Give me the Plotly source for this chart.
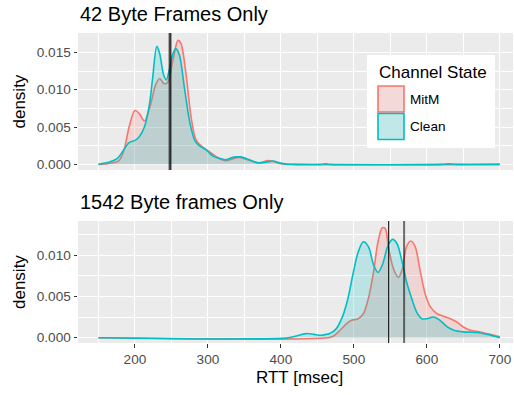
import plotly.graph_objects as go

# ---------------- data ----------------
top_mitm_x = [150, 160, 170, 178, 185, 192, 200, 206, 213, 220, 229, 234, 240, 245, 252, 259, 263,
              270, 277, 284, 293, 302, 316, 325, 339, 345, 361, 370, 382, 389, 398, 410, 700]
top_mitm_y = [0, 0.00005, 0.0002, 0.0005, 0.0019, 0.005, 0.0072, 0.0068, 0.0058, 0.0075, 0.0108,
              0.0115, 0.0108, 0.011, 0.0139, 0.0166, 0.0162, 0.0121, 0.0063, 0.0032, 0.0023, 0.0017,
              0.00075, 0.0005, 0.0009, 0.0009, 0.0004, 0.0002, 0.0005, 0.0004, 0.0001, 0, 0]

top_clean_x = [150, 165, 176, 183, 192, 200, 206, 213, 220, 224, 230, 234, 239, 243, 247, 252, 256,
               261, 268, 275, 282, 288, 298, 307, 316, 325, 333, 339, 345, 357, 368, 380, 389, 398,
               407, 420, 455, 461, 467, 620, 630, 640, 700]
top_clean_y = [0, 0.0003, 0.0008, 0.0017, 0.0029, 0.0032, 0.0037, 0.005, 0.0081, 0.0113, 0.0158,
               0.0148, 0.0121, 0.0113, 0.0126, 0.0148, 0.0155, 0.0146, 0.0101, 0.0057, 0.0032,
               0.0025, 0.0019, 0.0011, 0.0008, 0.0006, 0.0009, 0.001, 0.001, 0.0006, 0.0002, 0.0003,
               0.00044, 0.0002, 0.00003, 0, 0, 0.00006, 0, 0, 0.00006, 0, 0]

bot_mitm_x = [150, 465, 472, 481, 490, 497, 506, 513, 520, 527, 533, 539, 543, 547, 554, 561, 566,
              572, 578, 584, 591, 598, 605, 614, 623, 632, 641, 650, 660, 673, 687, 700]
bot_mitm_y = [0, 0, 0.0002, 0.0009, 0.0017, 0.0021, 0.0023, 0.0029, 0.0048, 0.008, 0.0116, 0.0133,
              0.0132, 0.0112, 0.0084, 0.0073, 0.0082, 0.011, 0.0117, 0.011, 0.008, 0.0052, 0.0037,
              0.0029, 0.0026, 0.0023, 0.0019, 0.0013, 0.0009, 0.0007, 0.0004, 0.0001]

bot_clean_x = [150, 410, 425, 435, 445, 455, 462, 467, 476, 485, 492, 499, 506, 513, 520, 527, 533,
               539, 547, 553, 559, 566, 572, 579, 586, 593, 600, 609, 618, 628, 637, 650, 669, 683,
               696, 700]
bot_clean_y = [0, 0, 0.0003, 0.0005, 0.0004, 0.0003, 0.0004, 0.0005, 0.0011, 0.0027, 0.0048, 0.0078,
               0.0104, 0.0116, 0.011, 0.0088, 0.0079, 0.0088, 0.0112, 0.0119, 0.0114, 0.0092, 0.0068,
               0.0048, 0.0031, 0.0023, 0.0023, 0.0025, 0.0021, 0.0013, 0.0009, 0.0007, 0.00064,
               0.0004, 0.0001, 0]

# [black line, grey line] positions per panel
top_vlines = [248.2, 248.2]
bot_vlines = [547.7, 568.8]

series_names = ["MitM", "Clean"]
series_colors = ["#F8766D", "#00BFC4"]
series_fills = ["rgba(248,118,109,0.2)", "rgba(0,191,196,0.2)"]

titles = ["42 Byte Frames Only", "1542 Byte frames Only"]
x_title = "RTT [msec]"
y_title = "density"
legend_title = "Channel State"

x_ticks = [200, 300, 400, 500, 600, 700]
x_minor = [150, 250, 350, 450, 550, 650]
y_ticks_top = [0, 0.005, 0.010, 0.015]
y_minor_top = [0.0025, 0.0075, 0.0125, 0.0175]
y_ticks_bot = [0, 0.005, 0.010]
y_minor_bot = [0.0025, 0.0075, 0.0125]

# ---------------- layout helpers ----------------
W, H = 514, 395
ML, MR, MT, MB = 78, 1, 33, 52
PW, PH = W - ML - MR, H - MT - MB


def px(xp):
    return (xp - ML) / PW


def py(yp):
    return (H - MB - yp) / PH


FONT = "Liberation Sans, Arial, Helvetica, sans-serif"
BG = "#EBEBEB"

fig = go.Figure()

panels = [
    ("x", "y", top_mitm_x, top_mitm_y, top_clean_x, top_clean_y),
    ("x2", "y2", bot_mitm_x, bot_mitm_y, bot_clean_x, bot_clean_y),
]
for xa, ya, mx, my, cx, cy in panels:
    for name, xs, ys, col, fc in [
        (series_names[0], mx, my, series_colors[0], series_fills[0]),
        (series_names[1], cx, cy, series_colors[1], series_fills[1]),
    ]:
        fig.add_trace(go.Scatter(
            x=xs, y=ys, mode="lines", name=name, xaxis=xa, yaxis=ya,
            line=dict(color=col, width=1.6, shape="spline", smoothing=0.9),
            fill="tozeroy", fillcolor=fc, showlegend=False, hoverinfo="skip"))

# vertical reference lines
grey_widths = [3.2, 2]
black_widths = [0.8, 1]
for k, (xref, yref, vals) in enumerate([("x", "y domain", top_vlines), ("x2", "y2 domain", bot_vlines)]):
    fig.add_shape(type="line", xref=xref, yref=yref, x0=vals[1], x1=vals[1], y0=0, y1=1,
                  line=dict(color="rgba(0,0,0,0.55)", width=grey_widths[k]))
    fig.add_shape(type="line", xref=xref, yref=yref, x0=vals[0], x1=vals[0], y0=0, y1=1,
                  line=dict(color="black", width=black_widths[k]))

xrange = [122, 718]
common_x = dict(range=xrange, showgrid=True, gridcolor="white", gridwidth=1.4, zeroline=False,
                tickvals=x_ticks, showline=False,
                minor=dict(tickvals=x_minor, showgrid=True, gridcolor="white", gridwidth=0.7, ticks=""))

top_dom = [py(170), py(33)]
bot_dom = [py(343), py(221)]

fig.update_layout(
    width=W, height=H, margin=dict(l=ML, r=MR, t=MT, b=MB),
    paper_bgcolor="white", plot_bgcolor=BG,
    font=dict(family=FONT, color="black"),
    showlegend=False,
    xaxis=dict(**common_x, anchor="y", domain=[0, 1], showticklabels=False, ticks=""),
    xaxis2=dict(**common_x, anchor="y2", domain=[0, 1], showticklabels=True, ticks="outside",
                ticklen=3.5, tickwidth=1, tickcolor="#333333",
                tickfont=dict(size=13.6, color="#4D4D4D", family=FONT)),
    yaxis=dict(domain=top_dom, anchor="x", range=[-0.00076, 0.01759], tickvals=y_ticks_top,
               tickformat=".3f", showgrid=True, gridcolor="white", gridwidth=1.4, zeroline=False,
               ticks="outside", ticklen=3.5, tickwidth=1, tickcolor="#333333",
               tickfont=dict(size=13.6, color="#4D4D4D", family=FONT),
               minor=dict(tickvals=y_minor_top, showgrid=True, gridcolor="white", gridwidth=0.7, ticks="")),
    yaxis2=dict(domain=bot_dom, anchor="x2", range=[-0.00064, 0.01412], tickvals=y_ticks_bot,
                tickformat=".3f", showgrid=True, gridcolor="white", gridwidth=1.4, zeroline=False,
                ticks="outside", ticklen=3.5, tickwidth=1, tickcolor="#333333",
                tickfont=dict(size=13.6, color="#4D4D4D", family=FONT),
                minor=dict(tickvals=y_minor_bot, showgrid=True, gridcolor="white", gridwidth=0.7, ticks="")),
)

ann = []
# panel titles
ann.append(dict(text=titles[0], x=px(78), y=py(14), xref="paper", yref="paper", xanchor="left",
                yanchor="middle", showarrow=False, font=dict(size=20, family=FONT, color="black")))
ann.append(dict(text=titles[1], x=px(78), y=py(202), xref="paper", yref="paper", xanchor="left",
                yanchor="middle", showarrow=False, font=dict(size=20, family=FONT, color="black")))
# axis titles
for yc in [101.5, 282]:
    ann.append(dict(text=y_title, x=px(19), y=py(yc), xref="paper", yref="paper", xanchor="center",
                    yanchor="middle", textangle=-90, showarrow=False,
                    font=dict(size=17, family=FONT, color="black")))
ann.append(dict(text=x_title, x=px(299.5), y=py(378), xref="paper", yref="paper", xanchor="center",
                yanchor="middle", showarrow=False, font=dict(size=17, family=FONT, color="black")))

# manual legend
fig.add_shape(type="rect", xref="paper", yref="paper", x0=px(367), x1=px(495), y0=py(148), y1=py(55),
              fillcolor="white", line=dict(width=0), layer="above")
ann.append(dict(text=legend_title, x=px(377), y=py(72.5), xref="paper", yref="paper", xanchor="left",
                yanchor="middle", showarrow=False, font=dict(size=17, family=FONT, color="black")))
key_tops = [86, 113.5]
for i in range(2):
    fig.add_shape(type="rect", xref="paper", yref="paper", x0=px(378), x1=px(404),
                  y0=py(key_tops[i] + 26), y1=py(key_tops[i]),
                  fillcolor="#F2F2F2", line=dict(width=0), layer="above")
    fig.add_shape(type="rect", xref="paper", yref="paper", x0=px(378), x1=px(404),
                  y0=py(key_tops[i] + 26), y1=py(key_tops[i]),
                  fillcolor=series_fills[i], line=dict(color=series_colors[i], width=1.6), layer="above")
    ann.append(dict(text=series_names[i], x=px(408), y=py(key_tops[i] + 13), xref="paper", yref="paper",
                    xanchor="left", yanchor="middle", showarrow=False,
                    font=dict(size=13.6, family=FONT, color="black")))

fig.update_layout(annotations=ann)
fig.write_html("out.html")
